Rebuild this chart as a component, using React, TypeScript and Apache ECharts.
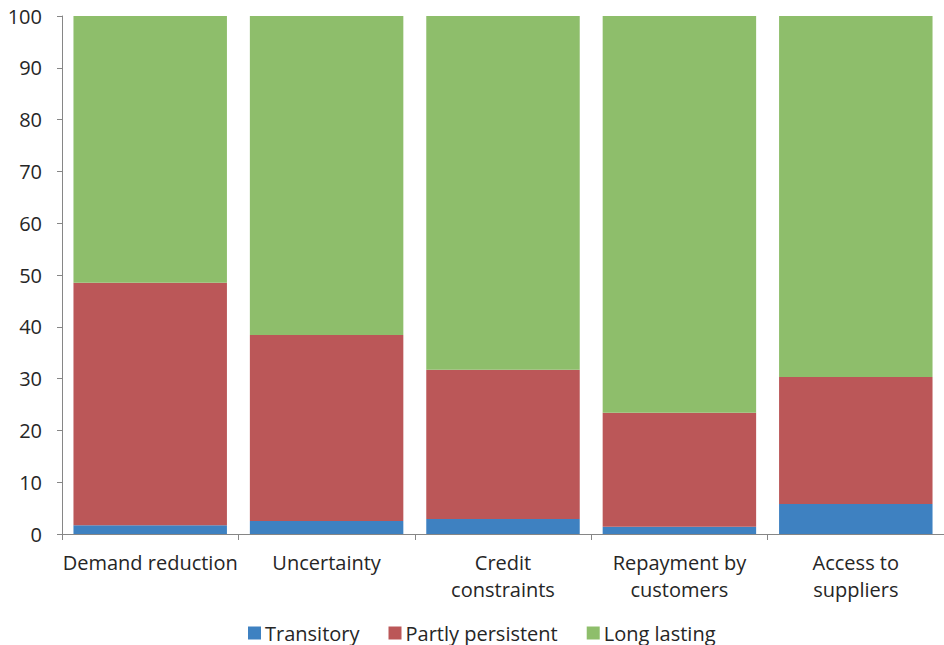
import React, { useEffect, useRef } from "react";
import * as echarts from "echarts";

const categories = ["Demand reduction", "Uncertainty", "Credit\nconstraints", "Repayment by\ncustomers", "Access to\nsuppliers"];
const transitory = [1.7, 2.5, 2.9, 1.4, 5.8];
const partlyPersistent = [46.8, 35.9, 28.8, 22.0, 24.5];
const longLasting = [51.5, 61.6, 68.3, 76.6, 69.7];
const seriesNames = ["Transitory", "Partly persistent", "Long lasting"];
const colors = ["#3e81c1", "#bb5758", "#8ebe6b"];

const FONT = "'Open Sans', sans-serif";

export default function App() {
  const ref = useRef<HTMLDivElement>(null);
  useEffect(() => {
    document.body.style.margin = "0";
    const chart = echarts.init(ref.current!, null, { renderer: "svg" });
    const dataSets = [transitory, partlyPersistent, longLasting];
    chart.setOption({
      animation: false,
      textStyle: { fontFamily: FONT },
      grid: { left: 62, right: 0, top: 16, bottom: 111, containLabel: false },
      legend: {
        top: 618,
        left: 243,
        itemWidth: 13,
        itemHeight: 13,
        itemGap: 29,
        icon: "rect",
        textStyle: { fontSize: 20, color: "#262626", fontFamily: FONT, padding: [0, 0, 0, -1] },
        data: seriesNames,
      },
      xAxis: {
        type: "category",
        data: categories,
        axisLine: { show: true, lineStyle: { color: "#868686", width: 1 } },
        axisTick: { show: true, length: 6, lineStyle: { color: "#868686" } },
        axisLabel: { fontSize: 20, color: "#262626", margin: 15, lineHeight: 27, interval: 0, fontFamily: FONT },
      },
      yAxis: {
        type: "value",
        min: 0,
        max: 100,
        interval: 10,
        splitLine: { show: false },
        axisLine: { show: true, lineStyle: { color: "#868686", width: 1 } },
        axisTick: { show: true, length: 5, lineStyle: { color: "#868686" } },
        axisLabel: { fontSize: 20, color: "#262626", margin: 20, fontFamily: FONT },
      },
      series: seriesNames.map((name, i) => ({
        name,
        type: "bar",
        stack: "total",
        barCategoryGap: "13%",
        data: dataSets[i],
        itemStyle: { color: colors[i] },
      })),
    });
    return () => chart.dispose();
  }, []);
  return <div ref={ref} style={{ width: 944, height: 645 }} />;
}
